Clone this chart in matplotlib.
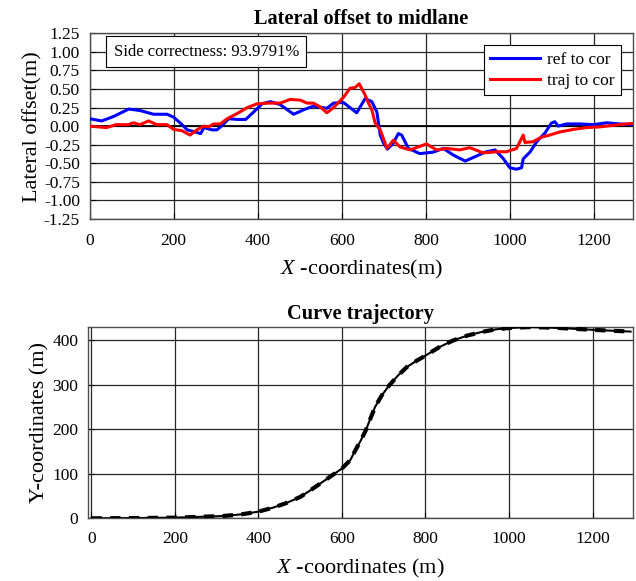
import matplotlib
matplotlib.use("Agg")
import matplotlib.pyplot as plt
import matplotlib as mpl

mpl.rcParams["font.family"] = ["Liberation Serif", "DejaVu Serif"]
mpl.rcParams["font.size"] = 12.5
mpl.rcParams["mathtext.fontset"] = "custom"
mpl.rcParams["mathtext.rm"] = "Liberation Serif"
mpl.rcParams["mathtext.it"] = "Liberation Serif:italic"
mpl.rcParams["axes.unicode_minus"] = False

# lateral offset, ref to cor (blue)
ref_x = [0, 29, 57, 93, 120, 152, 184, 200, 216, 232, 252, 264, 272, 291, 303, 315,
         331, 351, 371, 390, 410, 430, 453, 485, 509, 532, 564, 580, 603, 635, 655,
         671, 683, 691, 699, 708, 722, 734, 742, 758, 785, 817, 841, 865, 893, 917,
         940, 964, 984, 999, 1015, 1027, 1031, 1047, 1063, 1083, 1098, 1106, 1114,
         1134, 1165, 1197, 1229, 1260, 1290]
ref_y = [0.10, 0.07, 0.13, 0.23, 0.21, 0.16, 0.16, 0.12, 0.04, -0.05, -0.08, -0.10,
         -0.02, -0.05, -0.05, 0.01, 0.10, 0.09, 0.09, 0.19, 0.30, 0.33, 0.29, 0.16,
         0.22, 0.27, 0.24, 0.31, 0.32, 0.18, 0.37, 0.33, 0.19, -0.12, -0.23, -0.31,
         -0.23, -0.10, -0.12, -0.30, -0.37, -0.35, -0.30, -0.39, -0.47, -0.41, -0.35,
         -0.32, -0.44, -0.56, -0.58, -0.56, -0.44, -0.35, -0.21, -0.09, 0.04, 0.06,
         0.00, 0.03, 0.03, 0.02, 0.045, 0.03, 0.02]

# lateral offset, traj to cor (red)
traj_x = [0, 40, 63, 92, 104, 120, 140, 160, 184, 200, 219, 239, 255, 271, 283, 295,
          311, 327, 351, 375, 398, 422, 453, 477, 501, 517, 532, 548, 564, 580, 604,
          619, 631, 641, 655, 663, 671, 679, 691, 707, 722, 738, 762, 801, 825, 849,
          880, 904, 936, 968, 991, 1015, 1031, 1035, 1054, 1074, 1094, 1117, 1149,
          1181, 1213, 1244, 1276, 1290]
traj_y = [0.00, -0.02, 0.02, 0.02, 0.045, 0.02, 0.07, 0.02, 0.02, -0.045, -0.06,
          -0.12, -0.05, 0.00, -0.01, 0.03, 0.03, 0.10, 0.17, 0.25, 0.30, 0.31, 0.31,
          0.36, 0.35, 0.31, 0.31, 0.26, 0.18, 0.25, 0.39, 0.51, 0.52, 0.57, 0.42,
          0.31, 0.22, 0.04, -0.05, -0.30, -0.19, -0.28, -0.32, -0.24, -0.32, -0.30,
          -0.32, -0.29, -0.36, -0.345, -0.345, -0.30, -0.12, -0.22, -0.21, -0.15,
          -0.12, -0.08, -0.045, -0.02, -0.01, 0.01, 0.03, 0.035]

# curve trajectory
path_x = [0, 100, 200, 313, 360, 400, 435, 466, 500, 526, 560, 600, 620, 632, 645,
          657, 668, 679, 695, 713, 735, 755, 778, 800, 833, 866, 900, 934, 968, 1000,
          1044, 1080, 1121, 1160, 1200, 1245, 1291]
ref_path_y = [0, 0.5, 1.5, 5, 9, 15, 24, 34, 48, 64, 86, 112, 131, 153, 175, 198,
              224, 250, 276, 299, 322, 340, 354, 366, 385, 400, 411, 419, 425, 428,
              430, 429.5, 428, 426, 424, 422, 420]
traj_path_y = [0, 0.5, 1.5, 5, 9, 15, 24, 34, 48, 64, 86, 112, 131, 153, 175, 198,
               224, 250, 276, 299, 322, 340, 354, 366, 385, 400, 411, 419, 425, 428,
               430, 429.5, 428, 426, 424, 422, 420]

side_correctness = 93.9791

fig = plt.figure(figsize=(6.36, 5.81), dpi=100)
ax1 = fig.add_axes([0.1409, 0.6231, 0.8544, 0.3196])
ax2 = fig.add_axes([0.1384, 0.1079, 0.857, 0.3298])

grid_kw = dict(color="0.15", linewidth=0.9, linestyle="-")
label_size = 16
title_size = 14.7

# top plot
ax1.axhline(0, color="black", linewidth=1.3, zorder=2)
ax1.plot(ref_x, ref_y, color="#0000ff", linewidth=2.2, label="ref to cor", zorder=3)
ax1.plot(traj_x, traj_y, color="#ff0000", linewidth=2.2, label="traj to cor", zorder=4)
ax1.set_xlim(0, 1292)
ax1.set_ylim(-1.25, 1.25)
ax1.set_xticks(range(0, 1300, 200))
ax1.set_yticks([i * 0.25 for i in range(-5, 6)])
ax1.set_yticklabels(["%.2f" % (i * 0.25) for i in range(-5, 6)])
ax1.grid(True, **grid_kw)
ax1.set_axisbelow(True)
ax1.set_title("Lateral offset to midlane", fontweight="bold", fontsize=title_size, pad=6.5)
ax1.set_xlabel(r"$X$ -coordinates(m)", fontsize=label_size, labelpad=6.5)
ax1.set_ylabel("Lateral offset(m)", fontsize=label_size, labelpad=1)
leg = ax1.legend(loc="upper right", fancybox=False, edgecolor="black",
                 framealpha=1, handlelength=2.9, borderaxespad=0.7,
                 borderpad=0.35, labelspacing=0.3, handletextpad=0.4)
leg.get_frame().set_linewidth(0.8)
ax1.text(0.044, 0.945, "Side correctness: %.4f%%" % side_correctness,
         transform=ax1.transAxes, ha="left", va="top", fontsize=12,
         bbox=dict(boxstyle="square,pad=0.45", facecolor="white",
                   edgecolor="black", linewidth=0.8), zorder=5)

# bottom plot
ax2.plot(path_x, ref_path_y, color="black", linewidth=1.5, zorder=3)
ax2.plot(path_x, traj_path_y, color="black", linewidth=3, linestyle=(0, (2.5, 2)),
         zorder=4)
ax2.set_xlim(-8, 1297)
ax2.set_ylim(0, 431)
ax2.set_xticks(range(0, 1300, 200))
ax2.set_yticks(range(0, 500, 100))
ax2.grid(True, **grid_kw)
ax2.set_axisbelow(True)
ax2.set_title("Curve trajectory", fontweight="bold", fontsize=title_size, pad=5.5)
ax2.set_xlabel(r"$X$ -coordinates (m)", fontsize=label_size, labelpad=7.5)
ax2.set_ylabel("Y-coordinates (m)", fontsize=label_size, labelpad=2)

for ax in (ax1, ax2):
    ax.tick_params(direction="in", length=4, width=0.8, pad=7)
    for s in ax.spines.values():
        s.set_color("0.3")
        s.set_linewidth(1.0)
ax1.tick_params(axis="x", pad=10)
ax2.tick_params(axis="x", pad=9)

fig.savefig("out.png", dpi=100)
